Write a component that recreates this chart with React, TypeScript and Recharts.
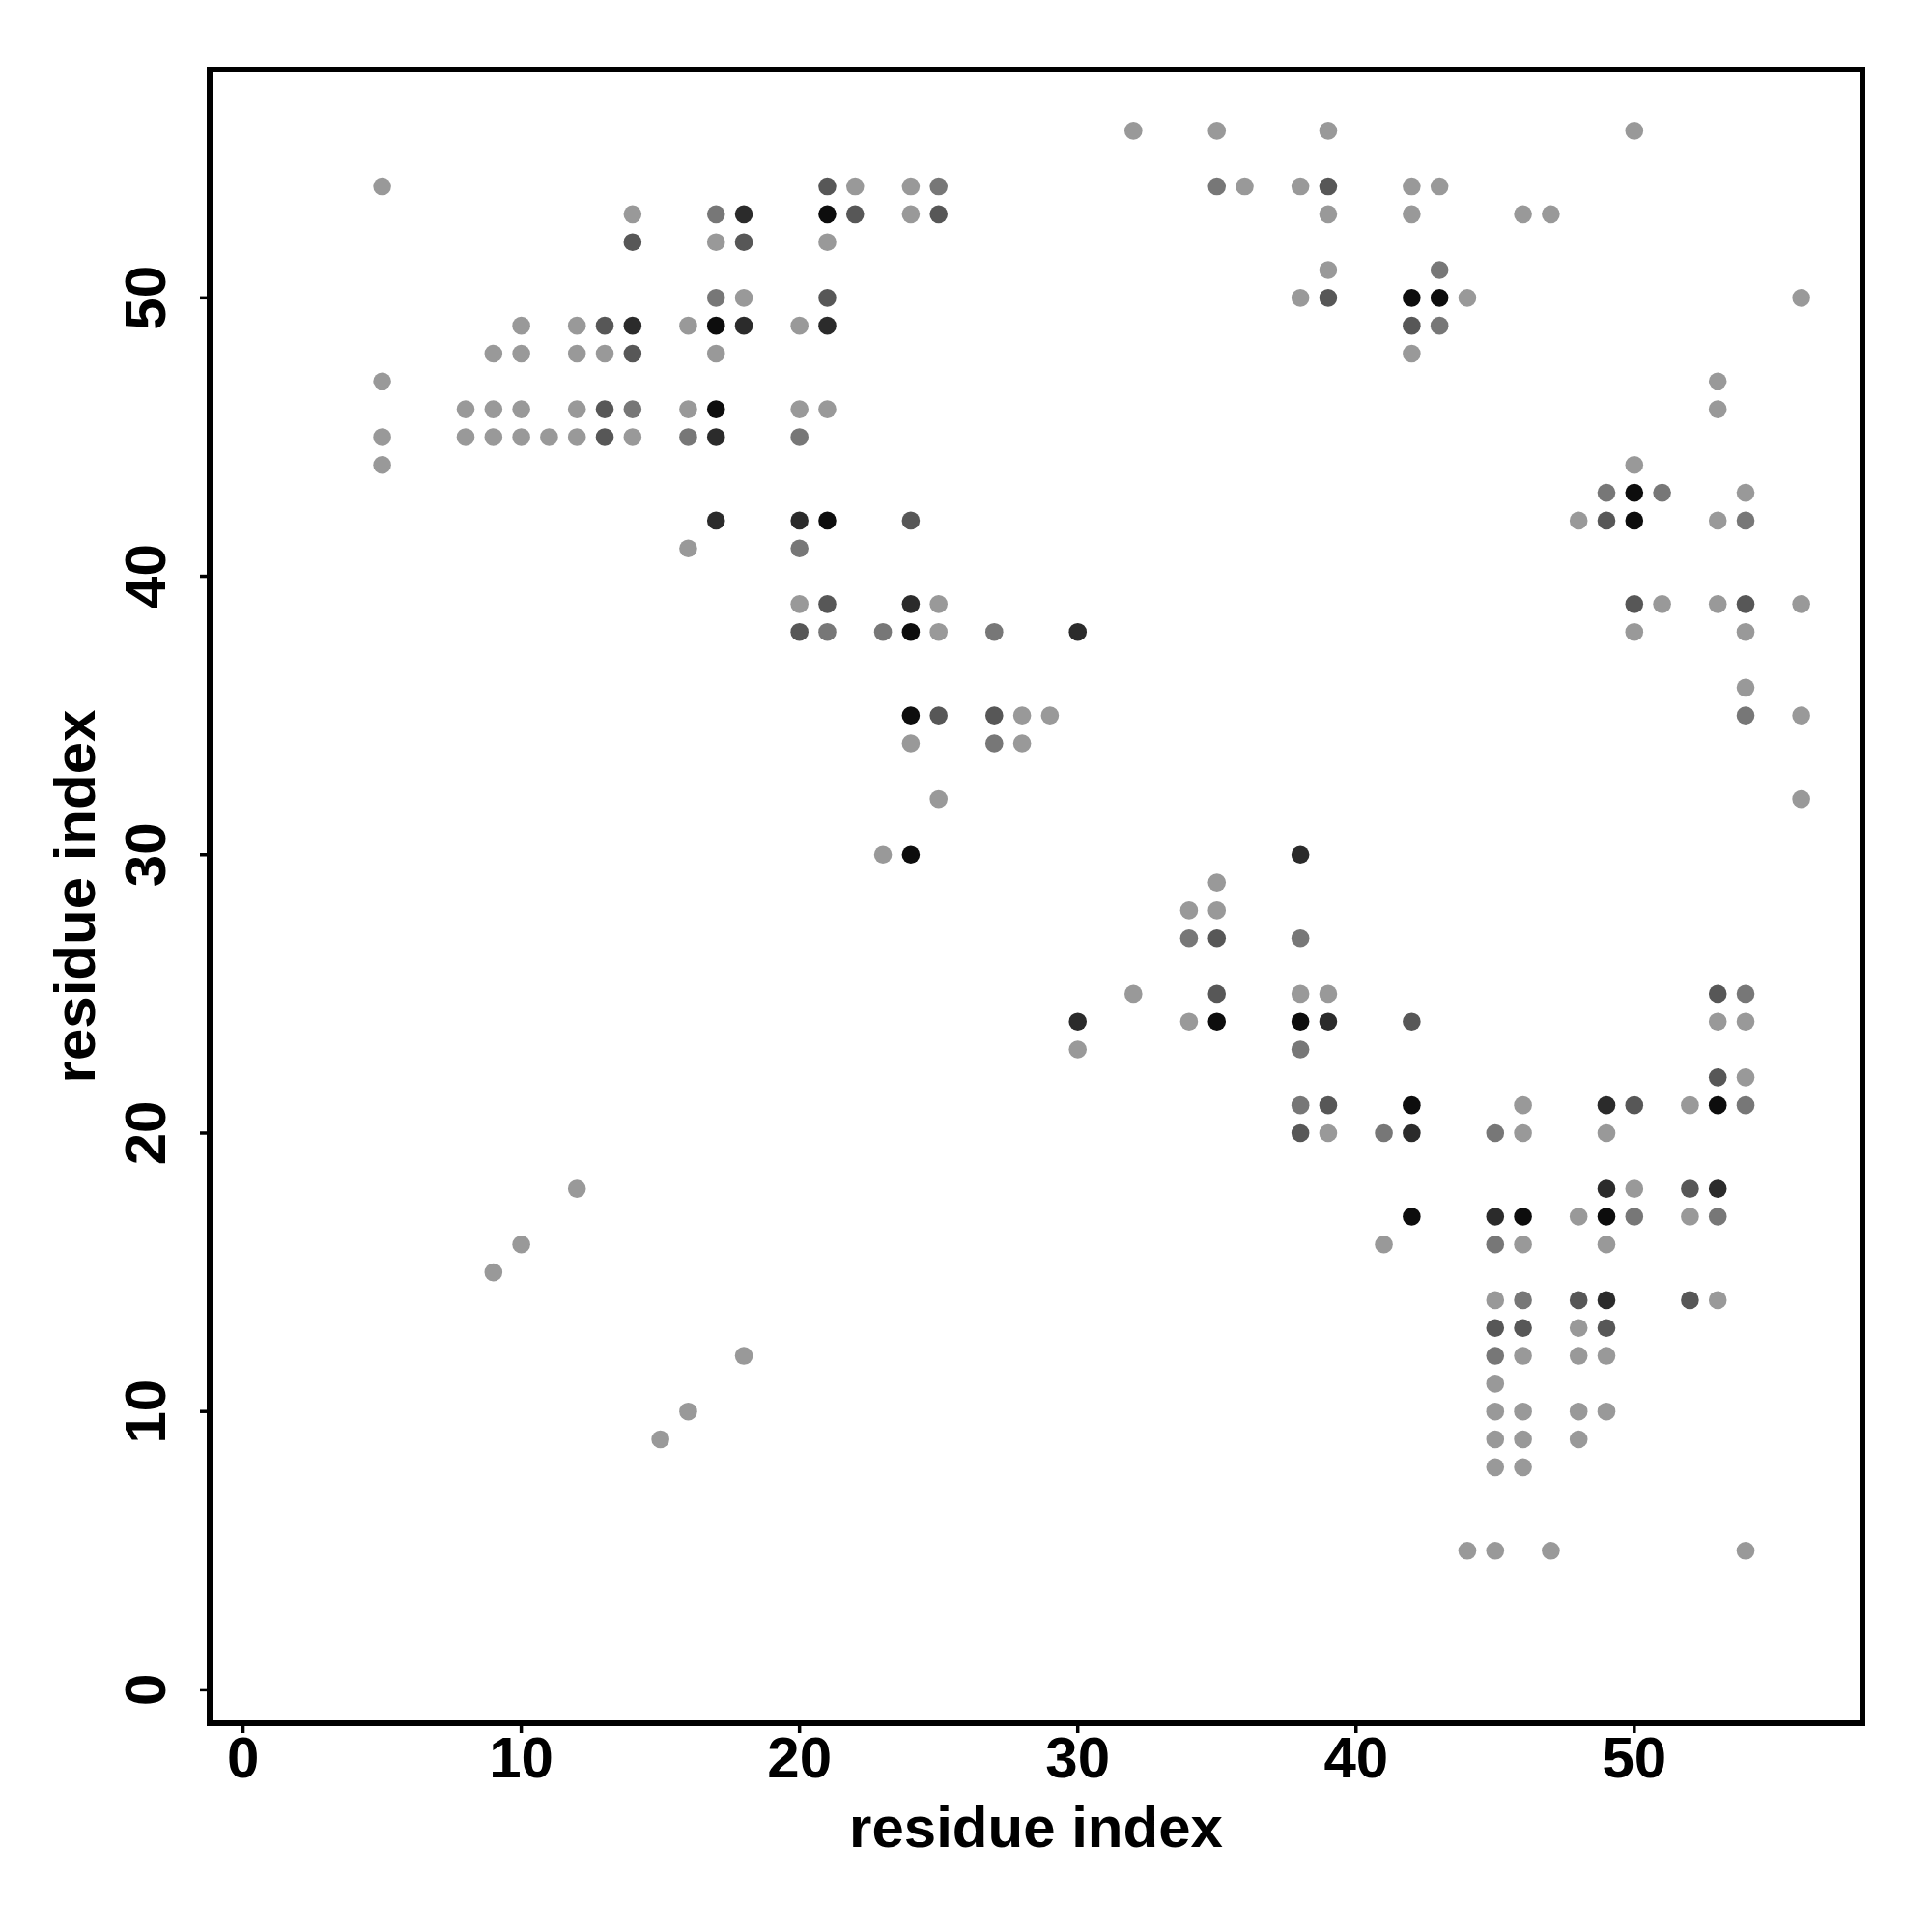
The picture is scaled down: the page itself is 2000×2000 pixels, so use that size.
import React from 'react'
import { ScatterChart, Scatter, XAxis, YAxis, ReferenceArea, Label } from 'recharts'

// contact pairs [i, j] grouped by grey level
const LIGHT: [number, number][] = [
  [5, 54], [5, 47], [5, 45], [5, 44], [8, 46], [8, 45], [9, 48], [9, 46], [9, 45], [9, 15],
  [10, 49], [10, 48], [10, 46], [10, 45], [10, 16], [11, 45], [12, 49], [12, 48], [12, 46], [12, 45], [12, 18],
  [13, 48], [14, 53], [14, 45], [15, 9], [16, 49], [16, 46], [16, 41], [16, 10], [17, 52], [17, 48],
  [18, 50], [18, 12], [20, 49], [20, 46], [20, 39], [21, 52], [21, 46], [22, 54], [23, 30],
  [24, 54], [24, 53], [24, 34], [25, 39], [25, 38], [25, 32], [28, 35], [28, 34], [29, 35], [30, 23],
  [32, 56], [32, 25], [34, 28], [34, 24], [35, 56], [35, 29], [35, 28], [36, 54], [38, 54], [38, 50], [38, 25],
  [39, 56], [39, 53], [39, 51], [39, 25], [39, 20], [41, 16], [42, 54], [42, 53], [42, 48], [43, 54],
  [44, 50], [44, 5], [45, 14], [45, 11], [45, 10], [45, 9], [45, 8], [45, 5],
  [46, 53], [46, 21], [46, 20], [46, 16], [46, 12], [46, 10], [46, 9], [46, 8], [47, 53], [47, 5],
  [48, 42], [48, 17], [48, 13], [48, 12], [48, 10], [48, 9], [49, 20], [49, 16], [49, 12], [49, 10],
  [50, 56], [50, 44], [50, 38], [50, 18], [51, 39], [52, 21], [52, 17],
  [53, 47], [53, 46], [53, 42], [53, 39], [53, 24], [53, 14],
  [54, 43], [54, 38], [54, 36], [54, 24], [54, 22], [54, 5], [56, 50], [56, 39], [56, 35], [56, 32],
]
const MID: [number, number][] = [
  [14, 46], [16, 45], [17, 53], [17, 50], [20, 45], [20, 41], [21, 38], [23, 38], [25, 54], [27, 38], [27, 34],
  [34, 27], [35, 54], [38, 27], [38, 23], [38, 21], [41, 20], [43, 51], [43, 49], [45, 20], [45, 16], [45, 12],
  [46, 14], [49, 43], [50, 17], [51, 43], [53, 17], [54, 42], [54, 35], [54, 25], [54, 21],
]
const DARK: [number, number][] = [
  [13, 49], [13, 46], [13, 45], [14, 52], [14, 48], [18, 52], [20, 38], [21, 54], [21, 50], [21, 39], [22, 53],
  [24, 42], [25, 53], [25, 35], [27, 35], [35, 27], [35, 25], [38, 20], [39, 54], [39, 50], [39, 21], [42, 49],
  [42, 24], [45, 13], [46, 13], [48, 14], [49, 42], [49, 13], [50, 39], [50, 21], [52, 18], [52, 14],
  [53, 25], [53, 22], [54, 39],
]
const DARKER: [number, number][] = [
  [14, 49], [17, 45], [17, 42], [18, 53], [18, 49], [20, 42], [21, 49], [24, 39], [30, 38], [30, 24], [38, 30],
  [39, 24], [42, 20], [45, 17], [49, 21], [49, 18], [49, 14], [53, 18],
]
const BLACK: [number, number][] = [
  [17, 49], [17, 46], [21, 53], [21, 42], [24, 38], [24, 35], [24, 30], [35, 24], [38, 24], [42, 50], [42, 21],
  [42, 17], [43, 50], [46, 17], [49, 17], [50, 43], [50, 42], [53, 21],
]

const TICKS = [0, 10, 20, 30, 40, 50]
const DOMAIN: [number, number] = [-1.2, 58.2]

const W = 2000
const H = 2000
const LEFT = 217
const TOP = 72
const RIGHT = 72
const BOTTOM = 216
const PLOT_BOTTOM = H - BOTTOM
const FONT = '"Liberation Sans", Arial, Helvetica, sans-serif'
const DOT_R = 9.3

const groups = [
  { name: 'light', pts: LIGHT, color: '#999999' },
  { name: 'mid', pts: MID, color: '#777777' },
  { name: 'dark', pts: DARK, color: '#575757' },
  { name: 'darker', pts: DARKER, color: '#2b2b2b' },
  { name: 'black', pts: BLACK, color: '#0d0d0d' },
]

function XTick({ x, payload }: { x?: number; payload?: { value: number } }) {
  return (
    <text x={x} y={PLOT_BOTTOM + 56} textAnchor="middle" fontSize={60} fontWeight="bold" fontFamily={FONT} fill="#000">
      {payload?.value}
    </text>
  )
}

function YTick({ y, payload }: { y?: number; payload?: { value: number } }) {
  const bx = 171
  return (
    <text x={bx} y={y} transform={`rotate(-90, ${bx}, ${y})`} textAnchor="middle" fontSize={60} fontWeight="bold" fontFamily={FONT} fill="#000">
      {payload?.value}
    </text>
  )
}

const xTitle = () => (
  <text x={LEFT + (W - LEFT - RIGHT) / 2} y={1912} textAnchor="middle" fontSize={60} fontWeight="bold" fontFamily={FONT} fill="#000">
    residue index
  </text>
)

const yTitle = () => {
  const cx = 98
  const cy = TOP + (H - TOP - BOTTOM) / 2
  return (
    <text x={cx} y={cy} transform={`rotate(-90, ${cx}, ${cy})`} textAnchor="middle" fontSize={60} fontWeight="bold" fontFamily={FONT} fill="#000">
      residue index
    </text>
  )
}

function dot(color: string) {
  return (p: { cx?: number; cy?: number }) => <circle cx={p.cx} cy={p.cy} r={DOT_R} fill={color} />
}

export default function App() {
  return (
    <div style={{ position: 'absolute', left: 0, top: 0, width: W, height: H, background: '#fff' }}>
      <ScatterChart width={W} height={H} margin={{ top: TOP, right: RIGHT, bottom: 0, left: 0 }}>
        <XAxis type="number" dataKey="x" domain={DOMAIN} ticks={TICKS} allowDataOverflow height={BOTTOM}
          axisLine={false} tickSize={10} tickLine={{ stroke: '#000', strokeWidth: 3.5 }} tick={<XTick />} interval={0}>
          <Label content={xTitle} />
        </XAxis>
        <YAxis type="number" dataKey="y" domain={DOMAIN} ticks={TICKS} allowDataOverflow width={LEFT}
          axisLine={false} tickSize={10} tickLine={{ stroke: '#000', strokeWidth: 3.5 }} tick={<YTick />} interval={0}>
          <Label content={yTitle} />
        </YAxis>
        {groups.map((g) => (
          <Scatter key={g.name} name={g.name} data={g.pts.map(([x, y]) => ({ x, y }))}
            fill={g.color} shape={dot(g.color)} isAnimationActive={false} />
        ))}
        <ReferenceArea x1={DOMAIN[0]} x2={DOMAIN[1]} y1={DOMAIN[0]} y2={DOMAIN[1]}
          fill="none" fillOpacity={0} stroke="#000" strokeWidth={6} ifOverflow="visible" />
      </ScatterChart>
    </div>
  )
}
